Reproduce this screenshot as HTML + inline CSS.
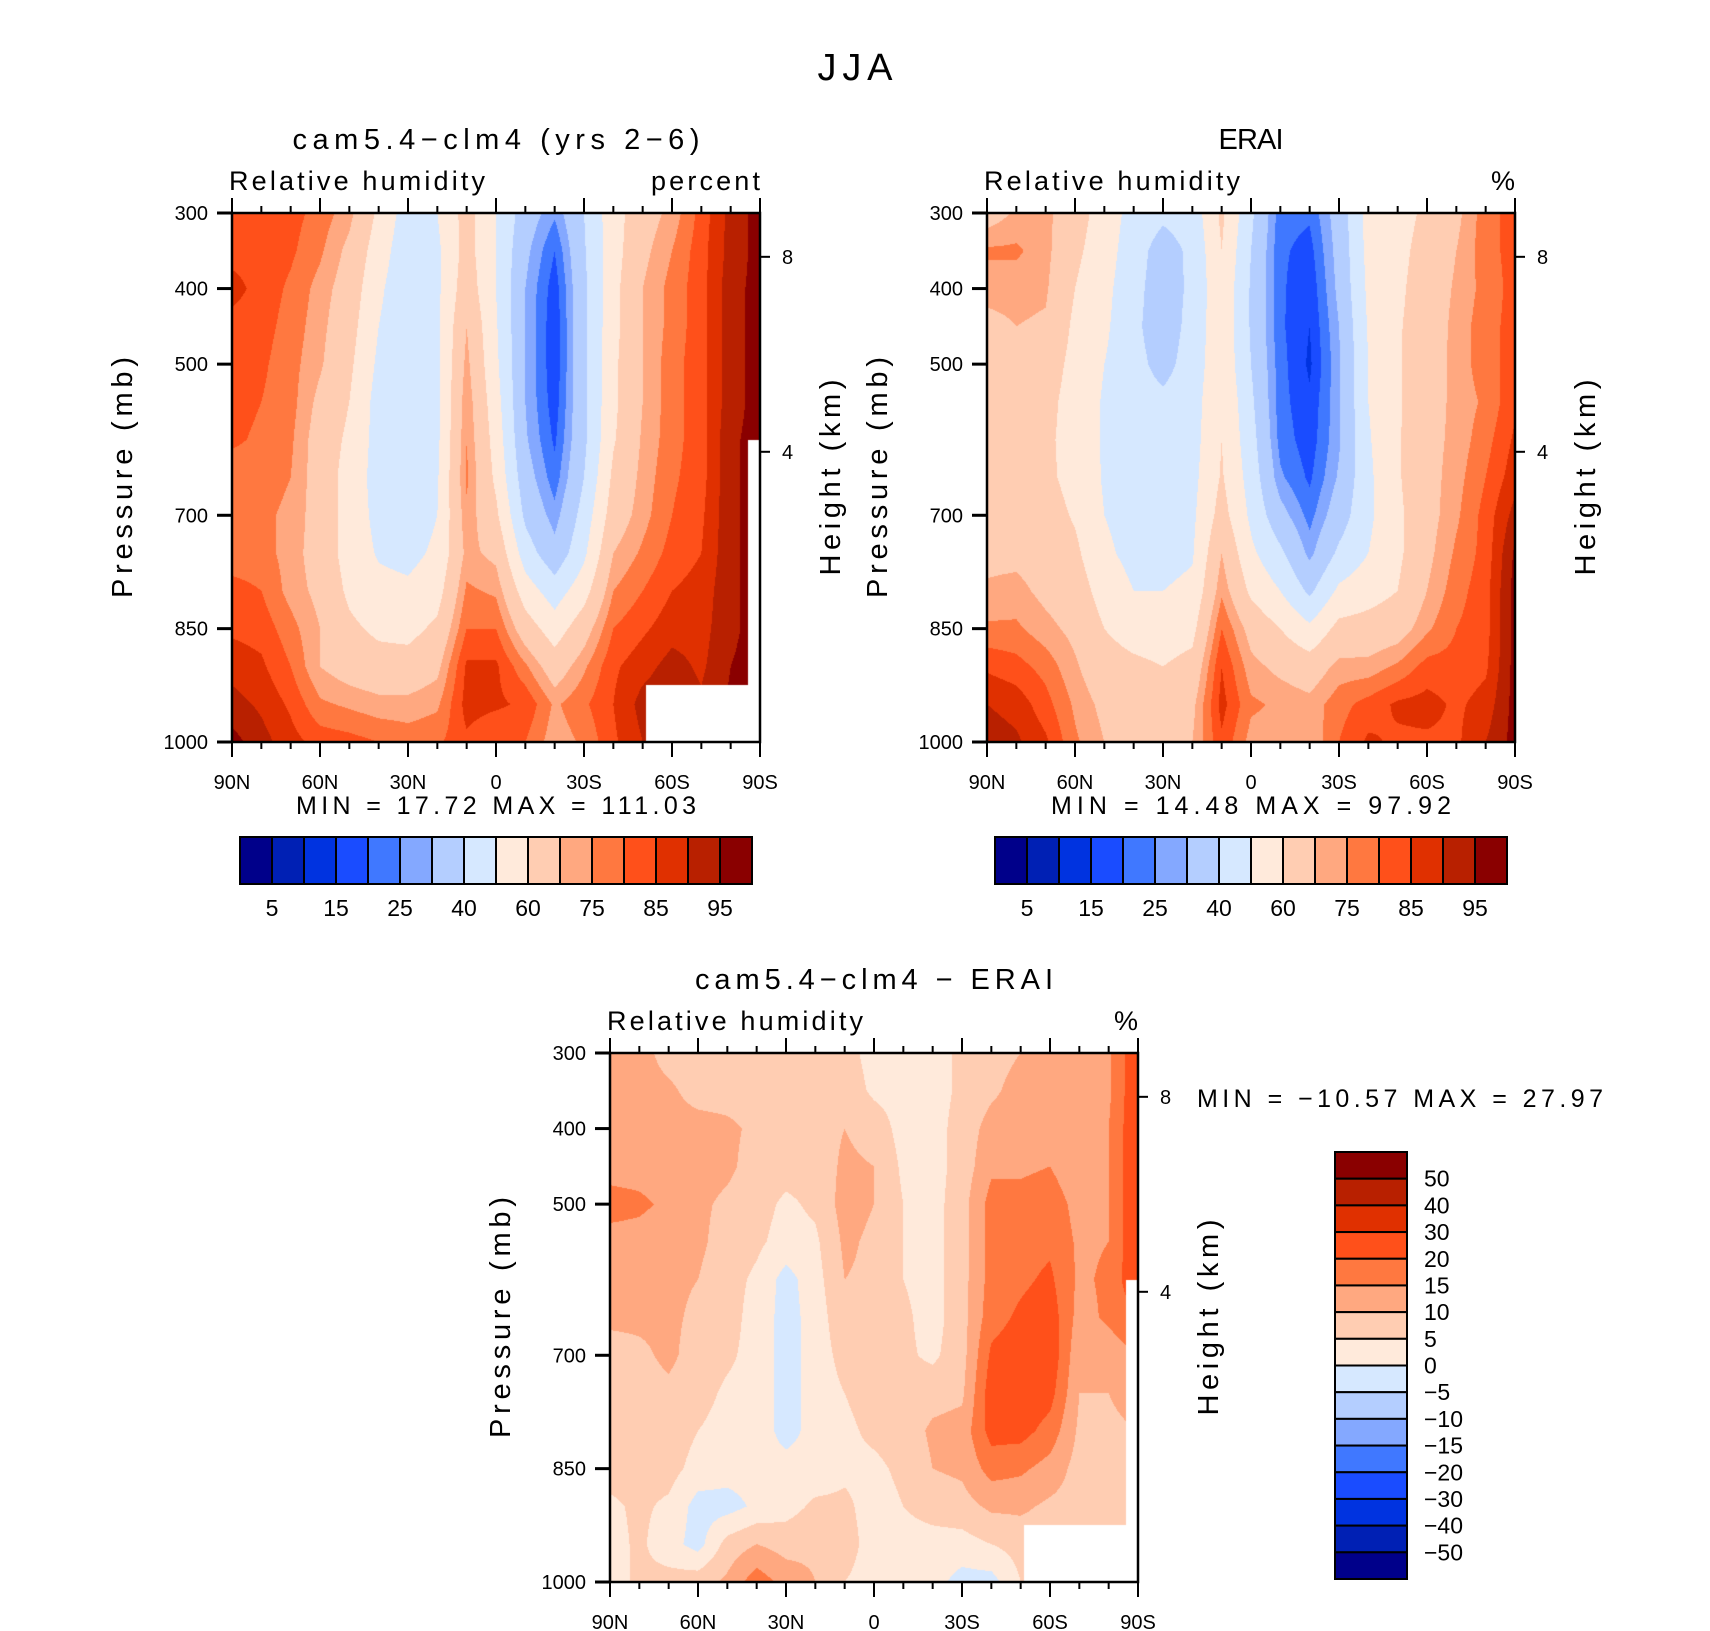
<!DOCTYPE html>
<html><head><meta charset="utf-8">
<style>
html,body{margin:0;padding:0;background:#fff;}
#wrap{position:relative;width:1710px;height:1631px;overflow:hidden;font-family:"Liberation Sans",sans-serif;}
canvas{position:absolute;}
svg{position:absolute;left:0;top:0;}
</style></head>
<body>
<div id="wrap">
<canvas id="c1" width="528" height="529" style="left:232px;top:213px"></canvas>
<canvas id="c2" width="528" height="529" style="left:987px;top:213px"></canvas>
<canvas id="c3" width="528" height="529" style="left:610px;top:1053px"></canvas>
<svg id="ov" width="1710" height="1631"></svg>
</div>
<script>
// ---- data ----
const lats = [90,80,70,60,50,40,30,20,10,0,-10,-20,-30,-40,-50,-60,-70,-80,-90];
const pLevels = [300,350,400,450,500,550,600,650,700,750,800,850,900,950,1000];
const absLevels = [5,10,15,20,25,30,40,50,60,70,75,80,85,90,95];
const absLabels = ["5","15","25","40","60","75","85","95"];
const diffLevels = [-50,-40,-30,-20,-15,-10,-5,0,5,10,15,20,30,40,50];
const diffLabels = ["50","40","30","20","15","10","5","0","\u22125","\u221210","\u221215","\u221220","\u221230","\u221240","\u221250"];
const palette = ["#00008a","#0020b4","#0033e0","#1a4cff","#4078ff","#84a8ff","#b4ceff","#d6e8ff","#ffeadb","#ffcdb2","#ffa880","#ff7840","#ff501a","#e03000","#b82000","#8a0000"];
// each inner array: one latitude column, values top (300mb) to bottom (1000mb)
const modelRH = [
[81,83,87,83,82,82,81,77,77,77,82,84,88,92,97],
[82,83,83,82,81,80,79,77,76,77,80,83,86,89,92],
[82,81,79,78,77,77,76,75,74,73,73,77,80,84,87],
[78,76,73,72,71,68,66,66,66,66,68,70,70,76,83],
[72,68,66,64,62,60,58,56,56,56,58,62,66,74,82],
[58,55,52,50,48,46,46,46,47,49,53,58,64,72,80],
[45,43,42,42,42,42,42,43,44,47,52,57,64,72,78],
[50,48,48,48,48,48,48,49,50,52,56,62,68,74,79],
[64,64,66,70,72,74,75,76,74,72,76,80,86,87,84],
[50,50,50,51,52,54,56,58,62,68,74,80,86,86,80],
[35,32,30,30,30,30,31,34,38,45,55,65,76,84,80],
[26,20,17,16,16,17,19,22,27,33,45,55,65,74,72],
[40,39,38,38,38,38,38,40,44,48,56,66,74,79,76],
[56,56,57,57,58,58,59,62,65,70,75,80,84,85,84],
[66,68,70,70,70,70,71,72,73,76,80,84,88,92,90],
[72,75,77,77,78,78,78,79,80,82,85,88,92,94,92],
[82,83,83,83,83,83,83,83,84,85,87,88,89,91,90],
[92,92,93,93,93,93,94,94,94,94,94,94,95,96,95],
[97,97,97,97,97,97,97,97,97,97,97,97,97,97,97]];
const eraRH = [
[66,76,72,68,66,66,66,66,66,68,71,76,84,90,93],
[71,76,72,70,66,65,65,65,65,68,72,76,82,88,91],
[72,72,71,69,65,63,62,62,64,66,68,72,78,82,86],
[64,62,60,58,57,56,56,57,59,62,65,68,71,74,76],
[56,55,53,52,50,49,49,49,50,52,56,60,64,68,70],
[46,44,43,42,43,44,44,45,46,47,50,56,62,64,66],
[42,36,35,35,37,42,44,45,46,47,50,55,60,64,66],
[44,42,42,43,44,45,46,47,48,49,52,57,63,68,70],
[62,60,58,58,58,60,60,61,64,70,74,80,85,87,84],
[42,40,39,39,40,42,44,46,48,52,58,67,72,76,73],
[22,21,21,21,22,22,23,26,33,42,50,60,68,74,73],
[21,18,16,15,14,16,17,19,23,28,38,52,65,72,71],
[34,33,32,30,29,29,29,31,35,42,52,63,72,78,80],
[54,53,52,51,50,50,49,48,48,50,56,64,72,82,86],
[56,57,58,59,59,59,59,59,58,58,60,66,76,86,84],
[62,64,65,65,66,66,67,67,67,68,70,74,82,87,84],
[68,70,71,72,72,72,72,73,74,76,78,80,82,84,84],
[78,78,77,78,78,76,78,80,82,82,83,83,84,87,90],
[82,82,82,82,82,84,86,88,92,96,97,97,97,97,97]];
const diffRH = [
[12,12,12,13,17,13,11,11,8,8,8,7,4,3,3],
[12,12,12,13,16,13,12,11,9,8,8,7,6,6,6],
[8,11,12,12,14,12,11,11,11,9,8,7,4,2,7],
[7,8,12,12,11,11,10,9,8,7,5,3,-2,-2,8],
[8,8,11,11,9,8,7,7,6,4,3,2,-2,7,11],
[8,8,9,8,7,6,4,3,3,3,3,2,1,10,18],
[8,8,8,7,4,3,-2,-2,-2,-2,-2,2,3,8,13],
[8,8,8,7,6,4,3,2,2,2,2,2,6,9,10],
[7,8,10,11,12,11,10,9,7,5,4,4,6,7,5],
[3,4,8,10,10,9,9,8,7,7,6,4,3,3,3],
[3,3,3,4,5,5,5,6,6,7,7,6,5,3,3],
[3,3,3,3,3,3,3,3,4,8,11,10,7,3,2],
[6,6,7,7,8,8,8,8,8,9,12,11,8,3,-2],
[8,9,12,14,17,17,17,18,21,23,22,17,11,5,-2],
[10,12,13,14,17,18,19,21,23,24,22,16,11,7,5],
[11,12,13,15,18,19,21,23,24,22,18,13,9,7,6],
[11,10,10,11,13,14,14,13,11,10,9,8,8,9,8],
[14,14,15,15,15,15,16,16,12,10,9,9,9,11,10],
[25,25,25,25,25,25,25,20,15,12,10,10,8,5,5]];
// missing-data regions: [latNorthEdge, latSouthEdge, pressureFrom]
const missingMask = [[-51,-90,925],[-86,-90,600]];

// ---- helpers ----
function hex2rgb(h){return [parseInt(h.substr(1,2),16),parseInt(h.substr(3,2),16),parseInt(h.substr(5,2),16)];}
const palRGB = palette.map(hex2rgb);
function levelIndex(v,lev){let i=0;while(i<lev.length && v>=lev[i]) i++;return i;}
function sample(grid,lat,p){
  const fx=(lats[0]-lat)/(lats[0]-lats[lats.length-1])*(lats.length-1);
  const fy=(p-pLevels[0])/(pLevels[pLevels.length-1]-pLevels[0])*(pLevels.length-1);
  const i0=Math.min(Math.floor(fx),lats.length-2), j0=Math.min(Math.floor(fy),pLevels.length-2);
  const tx=fx-i0, ty=fy-j0;
  const a=grid[i0][j0],b=grid[i0+1][j0],c=grid[i0][j0+1],d=grid[i0+1][j0+1];
  return a*(1-tx)*(1-ty)+b*tx*(1-ty)+c*(1-tx)*ty+d*tx*ty;
}
function drawField(id,grid,lev,useMask){
  const cv=document.getElementById(id),ctx=cv.getContext('2d');
  const W=cv.width,H=cv.height,img=ctx.createImageData(W,H);
  for(let y=0;y<H;y++){
    const p=pLevels[0]+(y+0.5)/H*(pLevels[pLevels.length-1]-pLevels[0]);
    for(let x=0;x<W;x++){
      const lat=lats[0]-(x+0.5)/W*(lats[0]-lats[lats.length-1]);
      let rgb;
      let masked=false;
      if(useMask){for(const m of missingMask){if(lat<=m[0]&&lat>=m[1]&&p>=m[2]) masked=true;}}
      if(masked) rgb=[255,255,255];
      else rgb=palRGB[levelIndex(sample(grid,lat,p),lev)];
      const k=(y*W+x)*4;img.data[k]=rgb[0];img.data[k+1]=rgb[1];img.data[k+2]=rgb[2];img.data[k+3]=255;
    }
  }
  ctx.putImageData(img,0,0);
}
drawField('c1',modelRH,absLevels,true);
drawField('c2',eraRH,absLevels,false);
drawField('c3',diffRH,diffLevels,true);

// ---- annotations ----
const NS='http://www.w3.org/2000/svg';
const ov=document.getElementById('ov');
function mk(tag,attrs,parent){const e=document.createElementNS(NS,tag);for(const k in attrs)e.setAttribute(k,attrs[k]);(parent||ov).appendChild(e);return e;}
function txt(s,x,y,size,anchor,name,rot,len){
  const t=mk('text',{x:x,y:y,'font-size':size,'text-anchor':anchor||'middle','font-family':'Liberation Sans, sans-serif',fill:'#000'});
  if(rot) t.setAttribute('transform','rotate(-90 '+x+' '+y+')');
  if(len){t.setAttribute('textLength',len);t.setAttribute('lengthAdjust','spacing');}
  t.textContent=s;
  
  
  return t;
}
const xTickLats=[90,60,30,0,-30,-60,-90];
const xTickLabels=["90N","60N","30N","0","30S","60S","90S"];
const pTicks=[300,400,500,700,850,1000];
const hTicks=[8,4];
const hTickP=[358,616]; // pressure equivalent of height ticks

function axes(L,T,W,H,title,titleLen,units,unitsLen,minmax,prefix){
  const g=mk('g',{});
  
  
  const X=lat=>L+(90-lat)/180*W, Y=p=>T+(p-300)/700*H;
  for(let lat=90;lat>=-90;lat-=10){
    const major=(lat%30===0), len=major?15:7;
    mk('line',{x1:X(lat),x2:X(lat),y1:T,y2:T-len,stroke:'#000','stroke-width':2},g);
    mk('line',{x1:X(lat),x2:X(lat),y1:T+H,y2:T+H+len,stroke:'#000','stroke-width':2},g);
  }
  xTickLats.forEach((lat,i)=>txt(xTickLabels[i],X(lat),T+H+47,20,'middle',prefix+'-x-tick-label'));
  pTicks.forEach(p=>{
    mk('line',{x1:L,x2:L-15,y1:Y(p),y2:Y(p),stroke:'#000','stroke-width':3},g);
    txt(String(p),L-24,Y(p)+7,20,'end',prefix+'-y-tick-label');
  });
  hTicks.forEach((h,i)=>{
    const y=Y(hTickP[i]);
    mk('line',{x1:L+W,x2:L+W+10,y1:y,y2:y,stroke:'#000','stroke-width':2},g);
    txt(String(h),L+W+22,y+7,20,'start',prefix+'-height-tick-label');
  });
  mk('rect',{x:L,y:T,width:W,height:H,fill:'none',stroke:'#000','stroke-width':2.5},g);
  txt(title,L+W/2,T-64,29,'middle',prefix+'-title',false,titleLen);
  txt('Relative humidity',L-3,T-23,27,'start',prefix+'-variable-label',false,256);
  txt(units,L+W,T-23,27,'end',prefix+'-units-label',false,unitsLen);
  txt('Pressure (mb)',L-100,T+H/2,29,'middle',prefix+'-y-axis-title',true,241);
  txt('Height (km)',L+W+80,T+H/2,29,'middle',prefix+'-height-axis-title',true,196);
  if(minmax) txt(minmax,L+W/2,T+H+72,25,'middle',prefix+'-min-max',false,400);
}
txt('JJA',855,80,38,'middle','figure-title',false,75);
axes(232,213,528,529,'cam5.4\u2212clm4 (yrs 2\u22126)',407,'percent',109,'MIN =  17.72  MAX = 111.03','model');
axes(987,213,528,529,'ERAI',65,'%',null,'MIN =  14.48  MAX =  97.92','erai');
axes(610,1053,528,529,'cam5.4\u2212clm4 \u2212 ERAI',358,'%',null,null,'diff');
txt('MIN = \u221210.57  MAX =  27.97',1400,1107,25,'middle','diff-min-max',false,406);

function hbar(L,T,W,H,prefix){
  const n=palette.length,cw=W/n;
  palette.forEach((c,i)=>{
    const r=mk('rect',{x:L+i*cw,y:T,width:cw,height:H,fill:c,stroke:'#000','stroke-width':2});
    
    
  });
  absLabels.forEach((s,i)=>txt(s,L+(2*i+1)*cw,T+H+32,23,'middle',prefix+'-colorbar-label'));
}
hbar(240,837,512,47,'model');
hbar(995,837,512,47,'erai');
(function(){
  const L=1335,T=1152,W=72,H=427,n=palette.length,ch=H/n;
  for(let i=0;i<n;i++){
    const r=mk('rect',{x:L,y:T+i*ch,width:W,height:ch,fill:palette[n-1-i],stroke:'#000','stroke-width':2});
    
    
  }
  diffLabels.forEach((s,i)=>txt(s,1424,T+(i+1)*ch+8,23,'start','diff-colorbar-label'));
})();
</script>
</body></html>
